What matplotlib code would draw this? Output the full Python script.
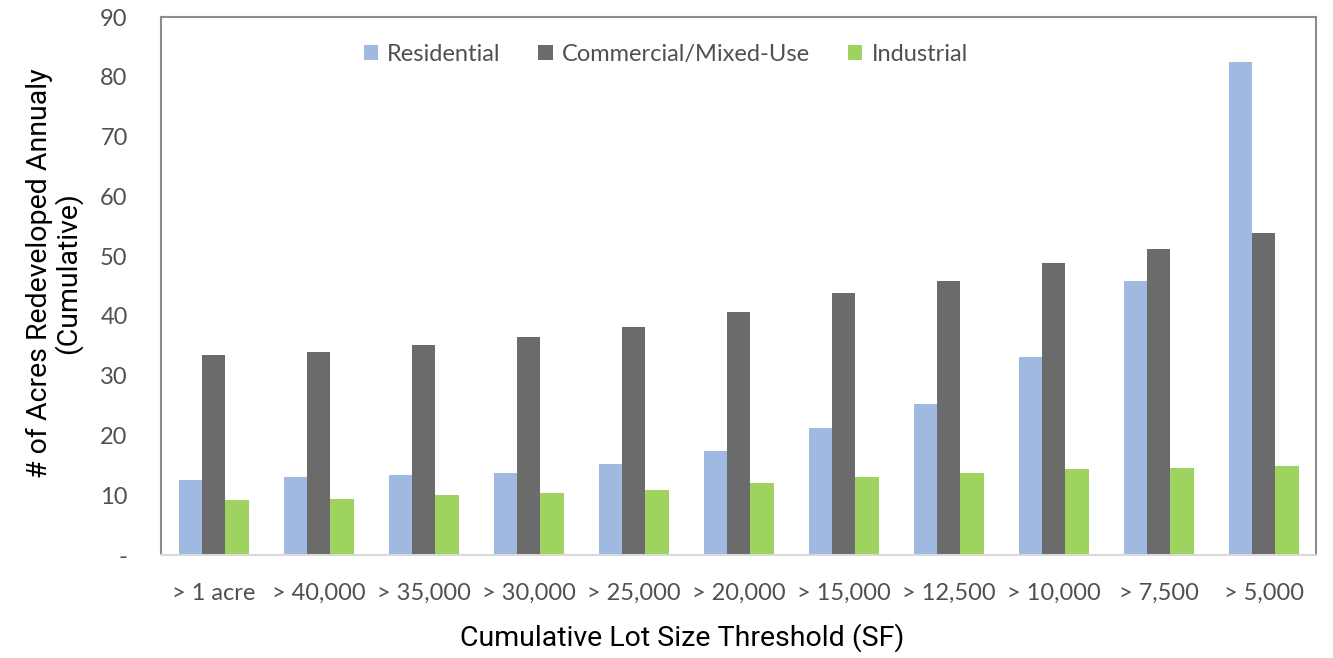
import matplotlib
matplotlib.use("Agg")
import matplotlib.pyplot as plt
import numpy as np

categories = ["> 1 acre", "> 40,000", "> 35,000", "> 30,000", "> 25,000", "> 20,000",
              "> 15,000", "> 12,500", "> 10,000", "> 7,500", "> 5,000"]
residential = [12.5, 13.0, 13.3, 13.8, 15.2, 17.4, 21.3, 25.3, 33.2, 45.9, 82.5]
commercial = [33.4, 33.9, 35.1, 36.4, 38.2, 40.7, 43.8, 45.9, 48.8, 51.2, 53.8]
industrial = [9.2, 9.4, 10.0, 10.4, 10.9, 12.1, 13.0, 13.7, 14.4, 14.6, 14.9]
series_names = ["Residential", "Commercial/Mixed-Use", "Industrial"]
y_ticks = [0, 10, 20, 30, 40, 50, 60, 70, 80, 90]
y_tick_labels = ["-", "10", "20", "30", "40", "50", "60", "70", "80", "90"]

colors = ["#9fb9e1", "#6b6b6b", "#9ed35f"]
tick_font = "Lato"
title_font = ["Roboto", "DejaVu Sans"]
label_color = "#505050"

fig = plt.figure(figsize=(13.33, 6.58), dpi=100)
ax = fig.add_axes([161 / 1333, 1 - 555 / 658, (1316 - 161) / 1333, (555 - 17) / 658])

x = np.arange(len(categories))
w = 1 / 4.5
for i, (vals, name, c) in enumerate(zip([residential, commercial, industrial], series_names, colors)):
    ax.bar(x + (i - 1) * w, vals, width=w, color=c, label=name, zorder=2)

ax.set_xlim(-0.5, len(categories) - 0.5)
ax.set_ylim(0, 90)
ax.set_yticks(y_ticks)
ax.set_yticklabels(y_tick_labels)
ax.set_xticks(x)
ax.set_xticklabels(categories)
ax.tick_params(axis="both", length=0, labelsize=17, labelcolor=label_color)
ax.tick_params(axis="y", pad=24)
ax.tick_params(axis="x", pad=20)
for lab in ax.get_xticklabels() + ax.get_yticklabels():
    lab.set_fontfamily(tick_font)

for side in ["left", "top", "right"]:
    ax.spines[side].set_color("#8c8c8c")
    ax.spines[side].set_linewidth(1.5)
ax.spines["bottom"].set_color("#d9d9d9")
ax.spines["bottom"].set_linewidth(1.5)

ax.set_ylabel("# of Acres Redeveloped Annualy\n(Cumulative)", fontsize=20.5,
              family=title_font, color="black", linespacing=1.05)
ax.yaxis.set_label_coords(-0.068, 0.524)
ax.set_xlabel("Cumulative Lot Size Threshold (SF)", fontsize=20.5,
              family=title_font, color="black", va="center")
ax.xaxis.set_label_coords(0.451, -0.154)

leg = ax.legend(loc="upper center", bbox_to_anchor=(0.437, 0.99), ncol=3, frameon=False,
                handlelength=0.6, handleheight=0.6, handletextpad=0.4, columnspacing=1.6,
                prop={"family": tick_font, "size": 17})
for t in leg.get_texts():
    t.set_color(label_color)

fig.savefig("out.png", dpi=100, facecolor="white")
